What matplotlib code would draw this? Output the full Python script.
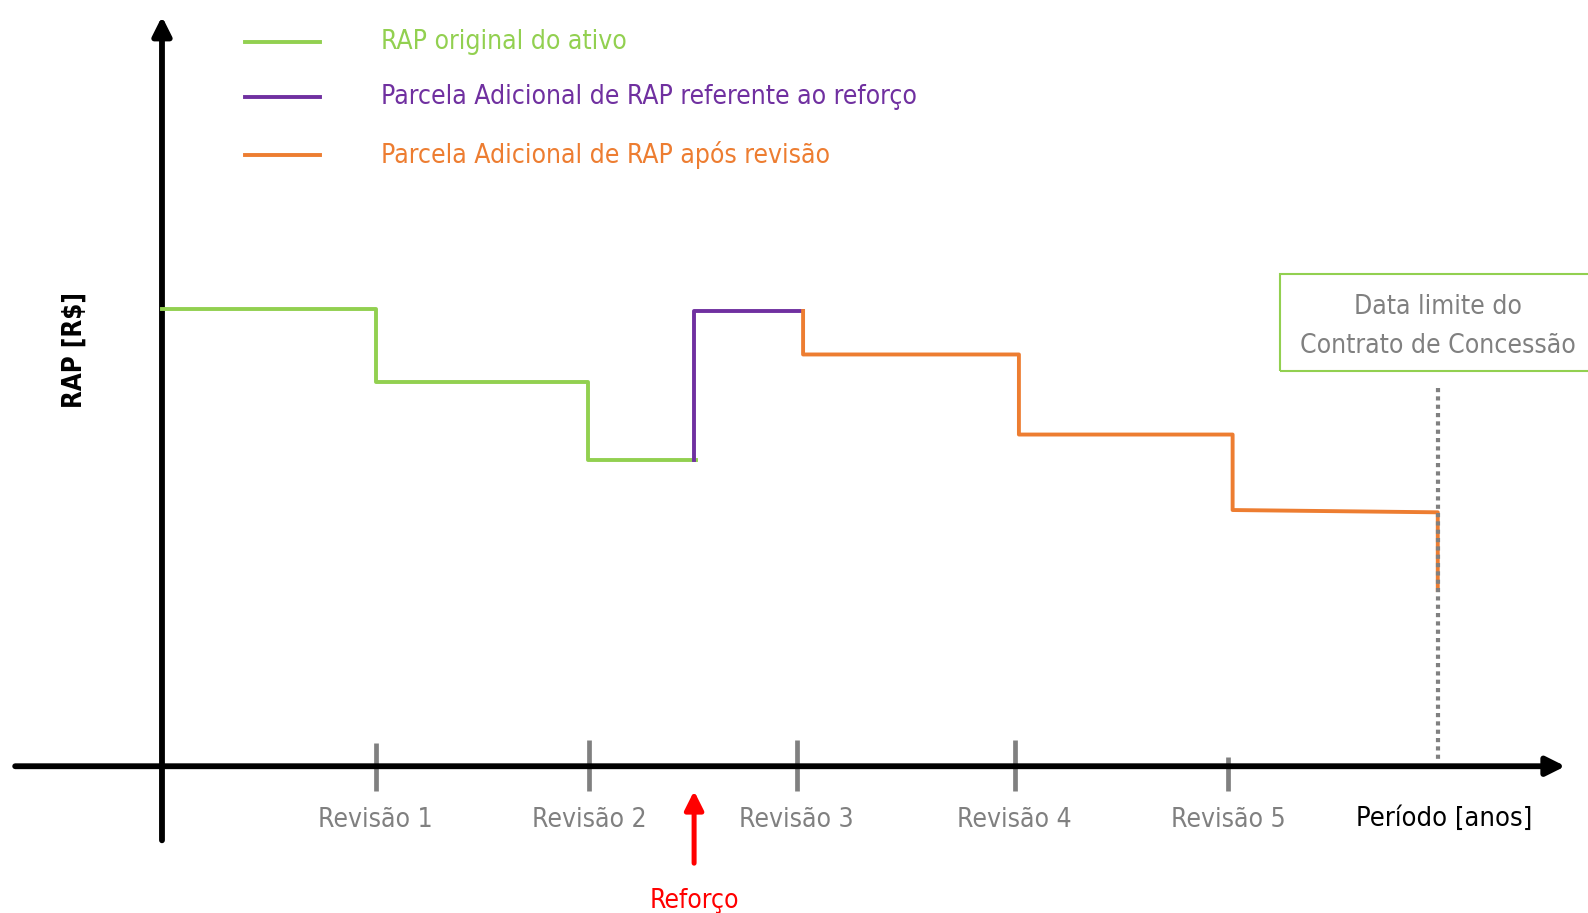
import matplotlib.pyplot as plt
from matplotlib.patches import Rectangle

# Timeline (years, in revision periods) and RAP levels (arbitrary units)
revisoes = ["Revisão 1", "Revisão 2", "Revisão 3", "Revisão 4", "Revisão 5"]
rev_x = [1.0, 2.0, 2.97, 3.99, 4.99]
reforco_x = 2.49
fim_contrato = 5.97

green_x = [0.0, 1.0, 1.0, 1.995, 1.995, 2.5]
green_y = [10.0, 10.0, 8.4, 8.4, 6.7, 6.7]
purple_x = [2.49, 2.49, 3.0]
purple_y = [6.7, 9.95, 9.95]
orange_x = [3.0, 3.0, 4.01, 4.01, 5.01, 5.01, 5.97, 5.97]
orange_y = [9.95, 9.0, 9.0, 7.25, 7.25, 5.6, 5.55, 3.85]

GREEN = "#92D050"
PURPLE = "#7030A0"
ORANGE = "#ED7D31"
GRAY = "#808080"
FONT = dict(family="DejaVu Sans", stretch="condensed")

fig = plt.figure(figsize=(15.88, 9.13), dpi=100)
ax = fig.add_axes([0, 0, 1, 1])
ax.set_xlim(-0.758, 6.673)
ax.set_ylim(-3.208, 16.748)
ax.axis("off")

# axes with arrows
ax.annotate("", xy=(0, 16.45), xytext=(0, -1.68),
            arrowprops=dict(arrowstyle="-|>", lw=4.2, color="black", mutation_scale=28))
ax.annotate("", xy=(6.58, 0), xytext=(-0.70, 0),
            arrowprops=dict(arrowstyle="-|>", lw=4.2, color="black", mutation_scale=28))

# revision ticks
tick_top = [0.5, 0.57, 0.57, 0.57, 0.2]
for x, top, lab in zip(rev_x, tick_top, revisoes):
    ax.plot([x, x], [top, -0.55], color=GRAY, lw=3.4, solid_capstyle="butt")
    ax.text(x, -1.17, lab, color=GRAY, fontsize=19, ha="center", va="center", **FONT)

ax.text(6.0, -1.15, "Período [anos]", color="black", fontsize=19.5, ha="center", va="center", **FONT)
ax.text(-0.41, 9.1, "RAP [R$]", color="black", fontsize=18.5, rotation=90,
        ha="center", va="center", fontweight="bold", **FONT)

# reforço arrow
ax.annotate("", xy=(reforco_x, -0.48), xytext=(reforco_x, -2.18),
            arrowprops=dict(arrowstyle="-|>", lw=3.6, color="red", mutation_scale=28))
ax.text(reforco_x, -2.95, "Reforço", color="red", fontsize=19, ha="center", va="center", **FONT)

# contract end marker
ax.add_patch(Rectangle((5.232, 8.63), 1.6, 2.12, fill=False, edgecolor=GREEN, lw=1.5))
ax.text(5.97, 10.03, "Data limite do", color=GRAY, fontsize=19, ha="center", va="center", **FONT)
ax.text(5.97, 9.18, "Contrato de Concessão", color=GRAY, fontsize=19, ha="center", va="center", **FONT)

# RAP curves
ax.plot(green_x, green_y, color=GREEN, lw=2.8, zorder=3)
ax.plot(purple_x, purple_y, color=PURPLE, lw=2.8, zorder=3)
ax.plot(orange_x, orange_y, color=ORANGE, lw=2.8, zorder=3)
ax.plot([fim_contrato, fim_contrato], [8.27, 0.11], color=GRAY, lw=3.0, ls=(0, (1, 1)), zorder=4)

# legend drawn by hand
legend_items = [("RAP original do ativo", GREEN, 15.82),
                ("Parcela Adicional de RAP referente ao reforço", PURPLE, 14.62),
                ("Parcela Adicional de RAP após revisão", ORANGE, 13.37)]
for lab, col, y in legend_items:
    ax.plot([0.389, 0.739], [y, y], color=col, lw=2.8)
    ax.text(1.024, y, lab, color=col, fontsize=19, ha="left", va="center", **FONT)

plt.savefig("out.png", dpi=100)
plt.close()
